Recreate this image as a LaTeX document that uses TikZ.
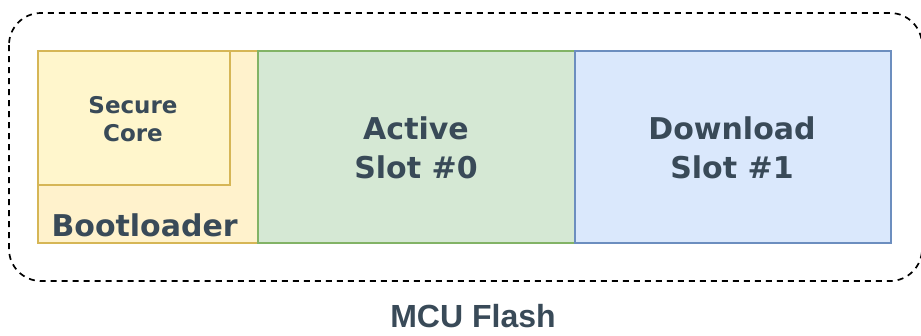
\documentclass[tikz,border=0pt]{standalone}
\usepackage{fontspec}
\setmainfont{DejaVu Sans}
\newfontfamily\arialfont{Liberation Sans}
\definecolor{txt}{HTML}{394A58}
\definecolor{yfill}{HTML}{FFF2CC}
\definecolor{yfillin}{HTML}{FFF6CC}
\definecolor{ystroke}{HTML}{D6B656}
\definecolor{gfill}{HTML}{D5E8D4}
\definecolor{gstroke}{HTML}{82B366}
\definecolor{bfill}{HTML}{DAE8FC}
\definecolor{bstroke}{HTML}{6C8EBF}
\begin{document}
\begin{tikzpicture}[x=1pt,y=-1pt,
  region/.style={line width=1.4pt},
  lbl/.style={text=txt,align=center},
  big/.style={lbl,font=\bfseries\fontsize{30}{39}\selectfont},
]
\useasboundingbox (0,0) rectangle (921,335);
\begin{scope}
\clip (0,0) rectangle (921,335);
\draw[line width=1.7pt,dash pattern=on 6pt off 5pt,rounded corners=32pt] (9,13) rectangle (922,281);
\end{scope}
\path[region,draw=ystroke,fill=yfill] (38,51) rectangle (258,243);
\path[region,draw=ystroke,fill=yfillin] (38,51) rectangle (230,185);
\path[region,draw=gstroke,fill=gfill] (258,51) rectangle (575,243);
\path[region,draw=bstroke,fill=bfill] (575,51) rectangle (891,243);
\node[lbl,font=\bfseries\fontsize{23}{28}\selectfont] (sc) at (133,119) {Secure\\Core};
\node[big,anchor=base west] (bl) at (48,236) {Bootloader};
\node[big] (act) at (416,148) {Active\\Slot \#0};
\node[big] (dl) at (732,148) {Download\\Slot \#1};
\node[text=txt,font=\arialfont\bfseries\fontsize{32}{40}\selectfont,anchor=base,inner ysep=0pt,text depth=0pt] (mcu) at (473,327) {MCU Flash};
\end{tikzpicture}
\end{document}
